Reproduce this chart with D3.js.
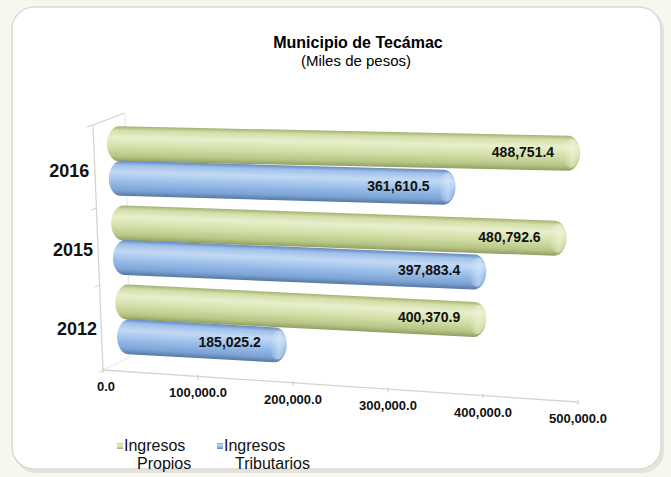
<!DOCTYPE html>
<html>
<head>
<meta charset="utf-8">
<script src="https://cdn.jsdelivr.net/npm/d3@7"></script>
<style>
  body { margin: 0; background: #f7f7ef; }
  svg { display: block; font-family: "Liberation Sans", Arial, sans-serif; }
</style>
</head>
<body>
<svg></svg>
<script>
'use strict';

// data
var years = ['2016', '2015', '2012'];
var seriesNames = ['Ingresos Propios', 'Ingresos Tributarios'];
var propios = [488751.4, 480792.6, 400370.9];
var tributarios = [361610.5, 397883.4, 185025.2];
var tickValues = [0, 100000, 200000, 300000, 400000, 500000];

function render() {
    var w = 671;
    var h = 477;
    var d3 = window.d3;
    var fmt = d3.format(',.1f');

    var svg = d3.select('svg').attr('width', w).attr('height', h);
    var defs = svg.append('defs');

    // vertical cylinder shading
    function cylGrad(id, stops) {
        var g = defs.append('linearGradient').attr('id', id)
            .attr('x1', 0).attr('y1', 0).attr('x2', 0).attr('y2', 1);
        stops.forEach(function (s) {
            g.append('stop').attr('offset', s[0]).attr('stop-color', s[1]);
        });
    }
    cylGrad('gGreen', [[0, '#a3b272'], [0.12, '#d2dea8'], [0.32, '#e8efcc'], [0.6, '#d3dfa6'], [0.85, '#b8c687'], [1, '#919f62']]);
    cylGrad('gBlue', [[0, '#6589bd'], [0.12, '#9fc0ea'], [0.32, '#c3d9f4'], [0.6, '#98bde9'], [0.85, '#7ca3d6'], [1, '#56799f']]);

    function capGrad(id, c) {
        var g = defs.append('linearGradient').attr('id', id)
            .attr('x1', 0).attr('y1', 0).attr('x2', 1).attr('y2', 0);
        g.append('stop').attr('offset', 0).attr('stop-color', c).attr('stop-opacity', 0);
        g.append('stop').attr('offset', 0.6).attr('stop-color', c).attr('stop-opacity', 0.55);
        g.append('stop').attr('offset', 1).attr('stop-color', c).attr('stop-opacity', 0.1);
    }
    capGrad('capGreen', '#f1f6dc');
    capGrad('capBlue', '#dcebfb');

    // panel
    svg.append('rect').attr('x', 14).attr('y', 9).attr('width', 650).attr('height', 464)
        .attr('rx', 22).attr('fill', '#e4e4dc');
    svg.append('rect').attr('x', 12).attr('y', 7).attr('width', 649).attr('height', 462)
        .attr('rx', 22).attr('fill', '#ffffff').attr('stroke', '#dadad6').attr('stroke-width', 1.5);

    // title
    svg.append('text').attr('x', 358).attr('y', 48).attr('text-anchor', 'middle')
        .attr('font-size', 16).attr('font-weight', 'bold').attr('fill', '#000')
        .text('Municipio de Tecámac');
    svg.append('text').attr('x', 356).attr('y', 66).attr('text-anchor', 'middle')
        .attr('font-size', 15).attr('fill', '#000')
        .text('(Miles de pesos)');

    // perspective helpers
    var yGroup = d3.scalePoint().domain(years).range([161, 319]);
    var yInner = d3.scalePoint().domain([0, 1]).range([-17.5, 17]);
    var depth = d3.scaleLinear().domain([143.5, 335]).range([0, 1]);
    var wallX = d3.scaleLinear().domain([125, 370]).range([93, 105]);
    var floorX = d3.scaleLinear().domain([0, 500000]).range([103, 578]);
    var floorY = d3.scaleLinear().domain([0, 500000]).range([370, 402]);

    var wallCol = '#d4d4d0';

    // wall and floor outline
    var axes = svg.append('g').attr('fill', 'none').attr('stroke', wallCol).attr('stroke-width', 1.3);
    axes.append('path').attr('d', 'M125,113 L93,125 L' + floorX(0) + ',' + floorY(0));
    axes.append('path').attr('d', 'M125,113 L130,357 L' + floorX(0) + ',' + floorY(0)).attr('stroke', '#ebebe8');
    axes.append('line').attr('x1', floorX(0)).attr('y1', floorY(0))
        .attr('x2', floorX(500000)).attr('y2', floorY(500000));
    [125, 208, 285, 370].forEach(function (y) {
        axes.append('line').attr('x1', wallX(y) - 6).attr('y1', y + 2).attr('x2', wallX(y)).attr('y2', y);
    });
    tickValues.forEach(function (v) {
        axes.append('line').attr('x1', floorX(v)).attr('y1', floorY(v) - 2)
            .attr('x2', floorX(v)).attr('y2', floorY(v) + 3);
    });

    // x tick labels along the floor
    svg.append('g').selectAll('text').data(tickValues).enter().append('text')
        .attr('x', function (d) { return floorX(d) + (d === 0 ? 3 : 0); })
        .attr('y', function (d) { return floorY(d) + 21; })
        .attr('text-anchor', 'middle').attr('font-size', 13).attr('font-weight', 'bold')
        .attr('fill', '#111')
        .text(function (d) { return fmt(d); });

    // year labels
    svg.append('g').selectAll('text').data(years).enter().append('text')
        .attr('x', function (d) { return wallX(yGroup(d) + 10) - 6; })
        .attr('y', function (d) { return yGroup(d) + 16; })
        .attr('text-anchor', 'end').attr('font-size', 18).attr('font-weight', 'bold')
        .attr('fill', '#111')
        .text(function (d) { return d; });

    // bars
    var bars = [];
    years.forEach(function (yr, i) {
        [propios[i], tributarios[i]].forEach(function (v, s) {
            var yL = yGroup(yr) + yInner(s);
            var t = depth(yL);
            var x = d3.scaleLinear().domain([0, 500000]).range([107 + 10 * t, 591 - 15 * t]);
            var slope = 0.021 + 0.035 * t;
            bars.push({ year: yr, series: s, value: v, x0: x(0), xE: x(v), yL: yL, slope: slope });
        });
    });

    var bh = 35;
    var bg = svg.append('g').selectAll('g').data(bars).enter().append('g')
        .attr('transform', function (d) {
            var ang = Math.atan(d.slope) * 180 / Math.PI;
            return 'translate(' + d.x0 + ',' + d.yL + ') rotate(' + ang + ')';
        });
    bg.append('rect')
        .attr('x', 0).attr('y', -bh / 2)
        .attr('width', function (d) { return Math.hypot(d.xE - d.x0, d.slope * (d.xE - d.x0)); })
        .attr('height', bh).attr('rx', 12).attr('ry', bh / 2)
        .attr('fill', function (d) { return d.series === 0 ? 'url(#gGreen)' : 'url(#gBlue)'; });
    bg.append('ellipse')
        .attr('cx', function (d) { return Math.hypot(d.xE - d.x0, d.slope * (d.xE - d.x0)) - 9; })
        .attr('cy', 0).attr('rx', 8).attr('ry', bh / 2 - 3)
        .attr('fill', function (d) { return d.series === 0 ? 'url(#capGreen)' : 'url(#capBlue)'; });

    // value labels
    svg.append('g').selectAll('text').data(bars).enter().append('text')
        .attr('x', function (d) { return d.xE - 26; })
        .attr('y', function (d) { return d.yL + d.slope * (d.xE - 60 - d.x0) + 5; })
        .attr('text-anchor', 'end').attr('font-size', 14).attr('font-weight', 'bold')
        .attr('fill', '#111')
        .text(function (d) { return fmt(d.value); });

    // legend
    var legendX = [117, 217];
    var lg = svg.append('g').selectAll('g').data(seriesNames).enter().append('g');
    lg.append('rect')
        .attr('x', function (d, i) { return legendX[i]; }).attr('y', 443)
        .attr('width', 6).attr('height', 6)
        .attr('fill', function (d, i) { return i === 0 ? 'url(#gGreen)' : 'url(#gBlue)'; });
    lg.append('text')
        .attr('x', function (d, i) { return legendX[i] + 7; }).attr('y', 451)
        .attr('font-size', 16).attr('fill', '#111')
        .text(function (d) { return d.split(' ')[0]; });
    lg.append('text')
        .attr('x', function (d, i) { return legendX[i] + (i === 0 ? 20 : 18); }).attr('y', 469)
        .attr('font-size', 16).attr('fill', '#111')
        .text(function (d) { return d.split(' ')[1]; });
}

render();
</script>
</body>
</html>
